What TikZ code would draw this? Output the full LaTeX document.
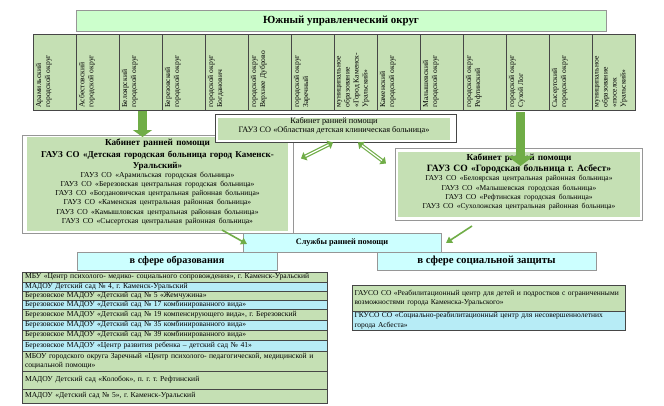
\documentclass[tikz,border=0pt]{standalone}
\usepackage{fontspec}
\setmainfont{Liberation Serif}
\usetikzlibrary{arrows.meta}
\definecolor{titlegreen}{RGB}{204,255,204}
\definecolor{colgreen}{RGB}{197,224,180}
\definecolor{lcyan}{RGB}{204,255,255}
\definecolor{rowcyan}{RGB}{183,236,246}
\definecolor{ogreen}{RGB}{112,173,71}
\definecolor{frameg}{RGB}{150,150,150}
\definecolor{darkline}{RGB}{70,70,70}
\frenchspacing
\begin{document}
\frenchspacing
\begin{tikzpicture}[x=1pt,y=-1pt,
  every node/.style={inner sep=0pt, outer sep=0pt},
  nwbox/.style={anchor=north west, line width=0.5pt},
  colbox/.style={nwbox, draw=darkline, fill=colgreen, minimum width=43pt, minimum height=76pt},
  coltext/.style={rotate=90, anchor=north west, align=left, font=\fontsize{7.6}{9}\selectfont},
  erow/.style={nwbox, draw=darkline, line width=0.4pt, inner xsep=3pt, align=left, text width=299pt, font=\fontsize{7.6}{9}\selectfont},
  erow1/.style={erow, text height=5.5pt, text depth=1.8pt},
  srow/.style={nwbox, draw=darkline, line width=0.4pt, inner xsep=2.5pt, align=left, text width=268pt, font=\fontsize{7.5}{9.4}\selectfont},
  bigarr/.style={ogreen, line width=9pt},
  thinarr/.style={ogreen, line width=1.6pt, -{Triangle[length=6pt,width=7pt]}},
  dblouter/.style={ogreen, line width=3.6pt, {Triangle[length=5pt,width=9pt]}-{Triangle[length=5pt,width=9pt]}},
  dblinner/.style={white, line width=1.3pt, shorten <=5pt, shorten >=5pt}
]
\useasboundingbox (0,0) rectangle (664,405);
\fill[white] (0,0) rectangle (664,405);

% title
\node[nwbox, draw=frameg, fill=titlegreen, minimum width=530pt, minimum height=21pt] (title) at (76,10) {};
\node[font=\fontsize{10.9}{12}\bfseries] (titlet) at (341,20.5) {Южный управленческий округ};

% columns
\foreach \i/\t in {
 1/{Арамильский\\городской округ},
 2/{Асбестовский\\городской округ},
 3/{Белоярский\\городской округ},
 4/{Березовский\\городской округ},
 5/{городской округ\\Богданович},
 6/{городской округ\\Верхнее Дуброво},
 7/{городской округ\\Заречный},
 8/{муниципальное\\образование\\«Город Каменск-\\Уральский»},
 9/{Каменский\\городской округ},
 10/{Малышевский\\городской округ},
 11/{городской округ\\Рефтинский},
 12/{городской округ\\Сухой Лог},
 13/{Сысертский\\городской округ},
 14/{муниципальное\\образование\\«поселок\\Уральский»}} {
  \node[colbox] (col\i) at ({33+43*(\i-1)},34) {};
  \node[coltext] (ct\i) at ({33+43*(\i-1)+3},107.5) {\t};
}

% left cabinet
\node[nwbox, draw=frameg, fill=white, minimum width=271pt, minimum height=98pt] (lframe) at (22,135) {};
\node[nwbox, fill=colgreen, minimum width=261pt, minimum height=94pt] (lfill) at (27,137) {};
\node[anchor=north, text width=261pt, align=center] (ltext) at (157.5,139) {%
 {\fontsize{9.2}{11.5}\bfseries Кабинет ранней помощи\\\fontsize{9}{11.5}\bfseries ГАУЗ СО «Детская городская больница город Каменск-\\Уральский»\par}%
 {\fontsize{7.6}{9.1}\selectfont ГАУЗ СО «Арамильская городская больница»\\
 ГАУЗ СО «Березовская центральная городская больница»\\
 ГАУЗ СО «Богдановичская центральная районная больница»\\
 ГАУЗ СО «Каменская центральная районная больница»\\
 ГАУЗ СО «Камышловская центральная районная больница»\\
 ГАУЗ СО «Сысертская центральная районная больница»\par}};

% centre cabinet
\node[nwbox, draw=darkline, fill=white, minimum width=241pt, minimum height=28pt] (cframe) at (215,114) {};
\node[nwbox, fill=colgreen, minimum width=232pt, minimum height=22.5pt] (cfill) at (218,117.5) {};
\node[align=center, font=\fontsize{8.3}{9}\selectfont] (ctext) at (334,125.5) {Кабинет ранней помощи\\ГАУЗ СО «Областная детская клиническая больница»};

% right cabinet
\node[nwbox, draw=frameg, fill=white, minimum width=247pt, minimum height=72pt] (rframe) at (395,148) {};
\node[nwbox, fill=colgreen, minimum width=242pt, minimum height=65pt] (rfill) at (398,152) {};
\node[anchor=north, text width=242pt, align=center] (rtext) at (519,154) {%
 {\fontsize{9.2}{11}\bfseries Кабинет ранней помощи\\\fontsize{9.6}{11}\bfseries ГАУЗ СО «Городская больница г. Асбест»\par}%
 {\fontsize{7.5}{9.3}\selectfont ГАУЗ СО «Белоярская центральная районная больница»\\
 ГАУЗ СО «Малышевская городская больница»\\
 ГАУЗ СО «Рефтинская городская больница»\\
 ГАУЗ СО «Сухоложская центральная районная больница»\par}};

% services
\node[nwbox, draw=frameg, fill=lcyan, minimum width=198pt, minimum height=19pt, font=\fontsize{8.3}{10}\bfseries] (serv) at (243,233) {Службы ранней помощи};
\node[nwbox, draw=frameg, fill=lcyan, minimum width=200pt, minimum height=18pt, font=\fontsize{10.2}{12}\bfseries] (edu) at (77,252) {в сфере образования};
\node[nwbox, draw=frameg, fill=lcyan, minimum width=219pt, minimum height=18pt, font=\fontsize{10.8}{12}\bfseries] (soc) at (377,252) {в сфере социальной защиты};

% education list
\node[erow1, fill=colgreen, minimum height=10pt] (e1) at (22,272) {МБУ «Центр психолого- медико- социального сопровождения», г. Каменск-Уральский};
\node[erow1, fill=rowcyan, minimum height=9pt] (e2) at (22,282) {МАДОУ Детский сад № 4, г. Каменск-Уральский};
\node[erow1, fill=colgreen, minimum height=9pt] (e3) at (22,291) {Березовское МАДОУ «Детский сад № 5 «Жемчужина»};
\node[erow1, fill=rowcyan, minimum height=9pt] (e4) at (22,300) {Березовское МАДОУ «Детский сад № 17 комбинированного вида»};
\node[erow1, fill=colgreen, minimum height=11pt] (e5) at (22,309) {Березовское МАДОУ «Детский сад № 19 компенсирующего вида», г. Березовский};
\node[erow1, fill=rowcyan, minimum height=10pt] (e6) at (22,320) {Березовское МАДОУ «Детский сад № 35 комбинированного вида»};
\node[erow1, fill=colgreen, minimum height=10pt] (e7) at (22,330) {Березовское МАДОУ «Детский сад № 39 комбинированного вида»};
\node[erow1, fill=rowcyan, minimum height=11pt] (e8) at (22,340) {Березовское МАДОУ «Центр развития ребенка – детский сад № 41»};
\node[erow, fill=colgreen, minimum height=20pt] (e9) at (22,351) {МБОУ городского округа Заречный «Центр психолого- педагогической, медицинской и\\социальной помощи»};
\node[erow1, fill=colgreen, minimum height=18pt] (e10) at (22,371) {МАДОУ Детский сад «Колобок», п. г. т. Рефтинский};
\node[erow1, fill=colgreen, minimum height=14pt] (e11) at (22,389) {МАДОУ «Детский сад № 5», г. Каменск-Уральский};

% social list
\node[srow, fill=colgreen, minimum height=26pt] (s1) at (352,285) {ГАУСО СО «Реабилитационный центр для детей и подростков с ограниченными\\возможностями города Каменска-Уральского»};
\node[srow, fill=rowcyan, minimum height=19pt] (s2) at (352,311) {ГКУСО СО «Социально-реабилитационный центр для несовершеннолетних\\города Асбеста»};

% block arrows
\coordinate (a1s) at (142.5,111);
\coordinate (a2s) at (520.5,112);
\coordinate (a2e) at (520.5,166);
\draw[bigarr, -{Triangle[length=7pt,width=19pt]}] (a1s) -- (a1s |- lfill.north);
\draw[bigarr, -{Triangle[length=10pt,width=26pt]}] (a2s) -- (a2e);

% double arrows
\coordinate (d1a) at (333,142.5);
\coordinate (d1b) at (301,158.5);
\coordinate (d2a) at (358,142.5);
\coordinate (d2b) at (386,163.5);
\draw[dblouter] (d1a) -- (d1b);
\draw[dblinner] (d1a) -- (d1b);
\draw[dblouter] (d2a) -- (d2b);
\draw[dblinner] (d2a) -- (d2b);

% thin arrows
\coordinate (t1a) at (222,230);
\coordinate (t1b) at (247,244);
\coordinate (t2a) at (472,226);
\coordinate (t2b) at (446,243);
\draw[thinarr] (t1a) -- (t1b);
\draw[thinarr] (t2a) -- (t2b);
\end{tikzpicture}
\end{document}
